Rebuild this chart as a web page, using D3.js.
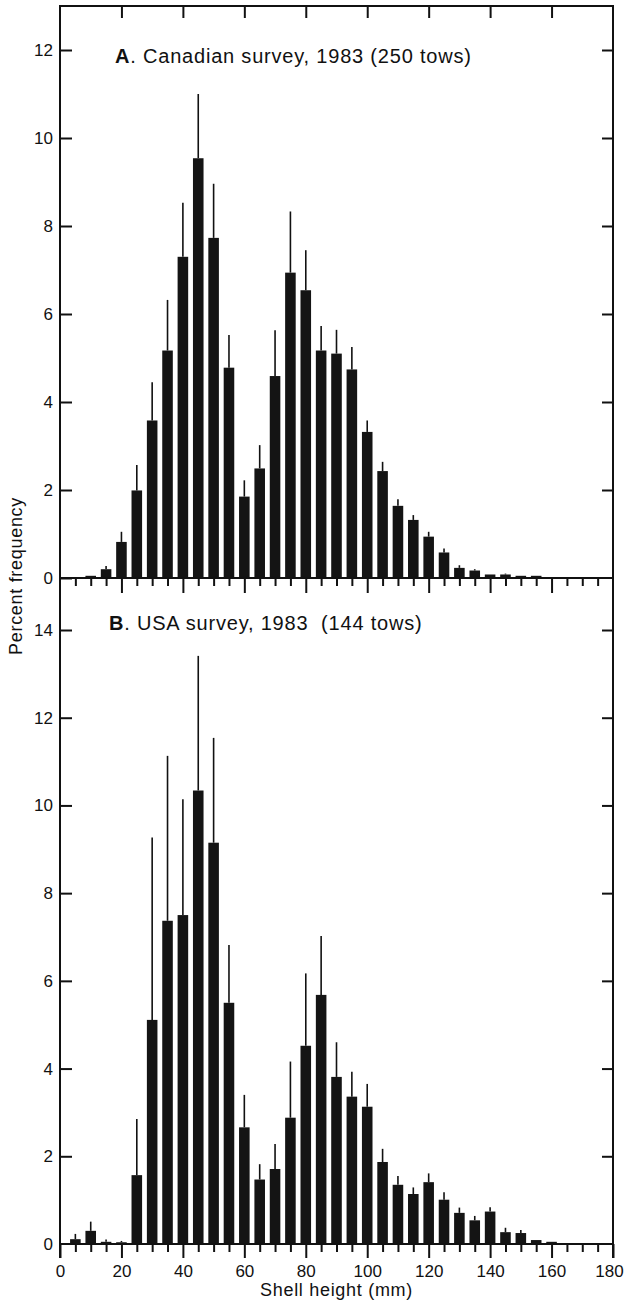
<!DOCTYPE html>
<html><head><meta charset="utf-8">
<script src="https://cdn.jsdelivr.net/npm/d3@7"></script>
<style>
html,body{margin:0;padding:0;background:#fff;}
svg{display:block;font-family:"Liberation Sans",Arial,Helvetica,sans-serif;}
.ttl{white-space:pre;}
</style></head><body>
<svg id="c" width="625" height="1303"></svg>
<script>
// Shell height classes (mm)
const heights = [5,10,15,20,25,30,35,40,45,50,55,60,65,70,75,80,85,90,95,100,105,110,115,120,125,130,135,140,145,150,155,160];
// A. Canadian survey, 1983 (250 tows): percent frequency and upper error value
const canadaPct = [0,0.05,0.2,0.82,1.99,3.58,5.17,7.3,9.54,7.73,4.78,1.85,2.49,4.59,6.94,6.54,5.17,5.10,4.74,3.32,2.43,1.64,1.32,0.94,0.58,0.23,0.17,0.08,0.08,0.05,0.05,0];
const canadaErr = [0,0.05,0.27,1.05,2.57,4.45,6.32,8.53,11.0,8.96,5.52,2.22,3.02,5.63,8.33,7.45,5.73,5.64,5.25,3.58,2.64,1.79,1.43,1.05,0.67,0.29,0.2,0.08,0.1,0.05,0.05,0];
// B. USA survey, 1983 (144 tows)
const usaPct = [0.11,0.30,0.05,0.04,1.57,5.11,7.37,7.50,10.34,9.15,5.50,2.66,1.47,1.71,2.88,4.52,5.68,3.81,3.36,3.13,1.87,1.35,1.14,1.41,1.01,0.71,0.54,0.74,0.27,0.25,0.09,0.05];
const usaErr = [0.23,0.51,0.1,0.07,2.85,9.27,11.13,10.14,13.41,11.54,6.82,3.40,1.82,2.28,4.16,6.17,7.02,4.60,3.93,3.65,2.17,1.55,1.29,1.61,1.18,0.83,0.64,0.84,0.37,0.32,0.09,0.05];
// Tick values
const xMajorTicks = [0,20,40,60,80,100,120,140,160,180];
const xMinorTicks = d3.range(5,180,5).filter(v => v % 20 !== 0);
const yTicksA = [0,2,4,6,8,10,12];
const yTicksB = [2,4,6,8,10,12,14];
const yTicksBLabels = [0,2,4,6,8,10,12,14];
const titleA = ["A", ". Canadian survey, 1983 (250 tows)"];
const titleB = ["B", ". USA survey, 1983  (144 tows)"];

const svg = d3.select("#c");
const L = 60, R = 613, TOP = 6, MID = 578, BOT = 1244;
const x = d3.scaleLinear().domain([0,180]).range([L,R]);
const yA = d3.scaleLinear().domain([0,12]).range([MID, 50]);
const yB = d3.scaleLinear().domain([0,14]).range([BOT, 630]);
const halfW = 1.72;
const ink = "#111";

function panel(y, pct, err) {
  const g = svg.append("g");
  const data = heights.map((h,i) => ({h, v: pct[i], e: err[i]}));
  g.selectAll("line.err").data(data.filter(d => d.e > d.v + 0.01)).join("line")
    .attr("x1", d => x(d.h)).attr("x2", d => x(d.h))
    .attr("y1", d => y(d.v)).attr("y2", d => y(d.e))
    .attr("stroke", ink).attr("stroke-width", 1.6);
  g.selectAll("rect").data(data.filter(d => d.v > 0)).join("rect")
    .attr("x", d => x(d.h - halfW)).attr("width", d => x(d.h + halfW) - x(d.h - halfW))
    .attr("y", d => y(d.v)).attr("height", d => y(0) - y(d.v))
    .attr("fill", "#141414");
}
panel(yA, canadaPct, canadaErr);
panel(yB, usaPct, usaErr);

function styleAxis(g) {
  g.select(".domain").remove();
  g.selectAll(".tick line").attr("stroke", ink).attr("stroke-width", 2);
  g.selectAll(".tick text").attr("fill", ink).attr("font-size", 17)
    .attr("font-family", "'Liberation Sans', Arial, sans-serif");
}

// Left axes
svg.append("g").attr("transform", `translate(${L},0)`)
  .call(d3.axisLeft(yA).tickValues(yTicksA).tickSize(-12).tickPadding(7).tickFormat(d3.format("d"))).call(styleAxis);
svg.append("g").attr("transform", `translate(${L},0)`)
  .call(d3.axisLeft(yB).tickValues(yTicksBLabels).tickSize(-12).tickPadding(7).tickFormat(d3.format("d"))).call(styleAxis)
  .selectAll(".tick").filter(d => d === 0).select("line").remove();
// Right axes
svg.append("g").attr("transform", `translate(${R},0)`)
  .call(d3.axisRight(yA).tickValues(yTicksA.filter(d => d > 0)).tickSize(-11).tickFormat("")).call(styleAxis);
svg.append("g").attr("transform", `translate(${R},0)`)
  .call(d3.axisRight(yB).tickValues(yTicksB).tickSize(-11).tickFormat("")).call(styleAxis);
// Top border ticks (major only)
svg.append("g").attr("transform", `translate(0,${TOP})`)
  .call(d3.axisBottom(x).tickValues(xMajorTicks.filter(d => d > 0 && d < 180)).tickSize(12).tickFormat("")).call(styleAxis);
// Middle shared border ticks
svg.append("g").attr("transform", `translate(0,${MID})`)
  .call(d3.axisBottom(x).tickValues(xMajorTicks.filter(d => d > 0 && d < 180)).tickSize(15).tickFormat("")).call(styleAxis);
svg.append("g").attr("transform", `translate(0,${MID})`)
  .call(d3.axisBottom(x).tickValues(xMinorTicks).tickSize(8).tickFormat("")).call(styleAxis);
// Bottom axis
const bottomAxis = svg.append("g").attr("transform", `translate(0,${BOT})`)
  .call(d3.axisBottom(x).tickValues(xMajorTicks).tickSize(14).tickPadding(7).tickFormat(d3.format("d"))).call(styleAxis);
bottomAxis.selectAll(".tick").filter(d => d === 180).select("text").attr("dx", -4);
svg.append("g").attr("transform", `translate(0,${BOT})`)
  .call(d3.axisBottom(x).tickValues(xMinorTicks).tickSize(8).tickFormat("")).call(styleAxis);

// Frame
const frame = svg.append("g").attr("stroke", ink).attr("stroke-width", 2).attr("fill", "none");
frame.append("line").attr("x1", L).attr("x2", L).attr("y1", TOP - 1).attr("y2", BOT + 14);
frame.append("line").attr("x1", R).attr("x2", R).attr("y1", TOP - 1).attr("y2", BOT + 14);
frame.append("line").attr("x1", L).attr("x2", R).attr("y1", TOP).attr("y2", TOP);
frame.append("line").attr("x1", L).attr("x2", R).attr("y1", MID).attr("y2", MID);
frame.append("line").attr("x1", L).attr("x2", R).attr("y1", BOT).attr("y2", BOT);

// Titles
function title(t, tx, ty) {
  const tt = svg.append("text").attr("class", "ttl").attr("x", tx).attr("y", ty)
    .attr("font-size", 20).attr("fill", ink).attr("letter-spacing", 0.8);
  tt.append("tspan").attr("font-weight", "bold").text(t[0]);
  tt.append("tspan").text(t[1]);
}
title(titleA, 115, 63);
title(titleB, 109, 630);

// Axis titles
svg.append("text").attr("transform", "translate(22,576) rotate(-90)")
  .attr("text-anchor", "middle").attr("font-size", 18).attr("letter-spacing", 0.7)
  .attr("fill", ink).text("Percent frequency");
svg.append("text").attr("x", (L + R) / 2).attr("y", 1296)
  .attr("text-anchor", "middle").attr("font-size", 18).attr("letter-spacing", 0.7)
  .attr("fill", ink).text("Shell height (mm)");
</script>
</body></html>
